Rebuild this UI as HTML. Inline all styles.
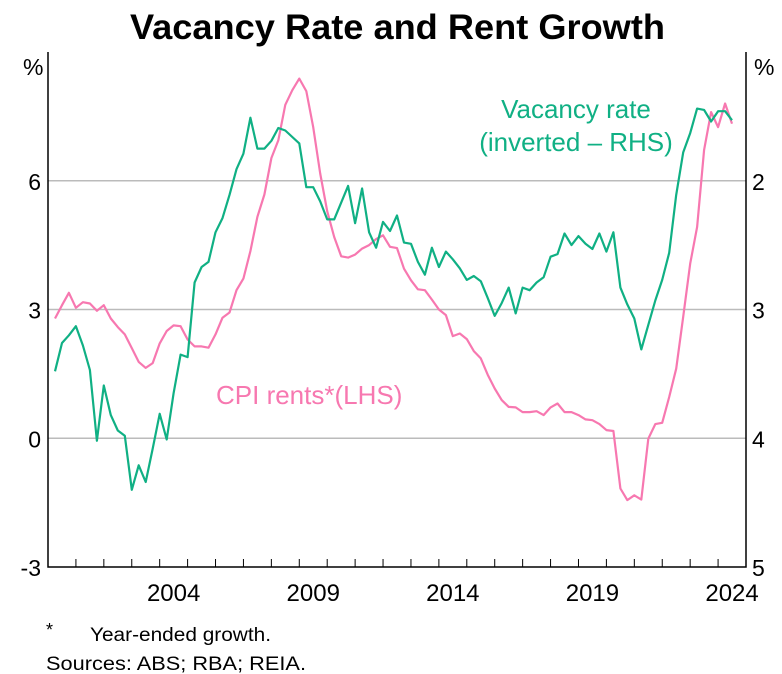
<!DOCTYPE html>
<html><head><meta charset="utf-8"><style>
body{margin:0;background:#fff;}
svg{display:block;font-family:"Liberation Sans",Arial,sans-serif;}
</style></head><body>
<svg id="chart" width="782" height="674" viewBox="0 0 782 674">
<text x="130" y="39" textLength="535" lengthAdjust="spacingAndGlyphs" font-size="35" font-weight="bold" fill="#000">Vacancy Rate and Rent Growth</text>
<g id="grid"></g>
<g id="axes"></g>
<g id="series"></g>
<text x="576" y="118" text-anchor="middle" font-size="26" fill="#10b084">Vacancy rate</text>
<text x="576" y="151" text-anchor="middle" font-size="26" fill="#10b084">(inverted – RHS)</text>
<text x="216" y="404" font-size="26" fill="#f778b0">CPI rents*(LHS)</text>
<text x="46" y="636" font-size="18">*</text>
<text x="90" y="641" font-size="19" textLength="181" lengthAdjust="spacingAndGlyphs">Year-ended growth.</text>
<text x="46" y="670" font-size="19" textLength="260" lengthAdjust="spacingAndGlyphs">Sources: ABS; RBA; REIA.</text>
</svg>
<script>
const startYear = 2000.25;
const yearTicks = [2000,2001,2002,2003,2004,2005,2006,2007,2008,2009,2010,2011,2012,2013,2014,2015,2016,2017,2018,2019,2020,2021,2022,2023,2024,2025];
const yearLabels = [2004,2009,2014,2019,2024];
const leftTicks = [-3,0,3,6];
const rightTicks = [2,3,4,5];
const cpiRents = [2.79,3.1,3.39,3.04,3.17,3.14,2.97,3.10,2.79,2.59,2.42,2.10,1.78,1.64,1.75,2.21,2.50,2.63,2.61,2.30,2.14,2.14,2.11,2.42,2.81,2.93,3.45,3.72,4.36,5.16,5.68,6.53,6.94,7.77,8.11,8.38,8.09,7.25,6.17,5.29,4.69,4.24,4.21,4.28,4.42,4.50,4.64,4.73,4.46,4.43,3.95,3.68,3.47,3.45,3.23,3.00,2.87,2.38,2.44,2.31,2.03,1.86,1.48,1.16,0.89,0.73,0.72,0.61,0.61,0.63,0.54,0.72,0.81,0.61,0.61,0.54,0.44,0.42,0.33,0.19,0.17,-1.17,-1.44,-1.33,-1.43,-0.01,0.33,0.36,0.96,1.62,2.83,4.07,4.92,6.72,7.60,7.25,7.80,7.33];
const vacancyRate = [3.48,3.26,3.20,3.13,3.28,3.47,4.02,3.59,3.82,3.94,3.98,4.40,4.21,4.34,4.08,3.81,4.01,3.65,3.35,3.37,2.79,2.67,2.63,2.40,2.29,2.11,1.91,1.79,1.51,1.75,1.75,1.69,1.59,1.61,1.66,1.71,2.05,2.05,2.16,2.30,2.30,2.17,2.04,2.33,2.06,2.40,2.52,2.32,2.39,2.27,2.48,2.49,2.63,2.73,2.52,2.67,2.55,2.61,2.68,2.77,2.74,2.78,2.91,3.05,2.95,2.83,3.03,2.83,2.85,2.79,2.75,2.59,2.57,2.41,2.50,2.43,2.49,2.53,2.41,2.55,2.40,2.83,2.96,3.07,3.31,3.12,2.93,2.77,2.56,2.11,1.78,1.63,1.44,1.45,1.54,1.46,1.46,1.53];

const X0=48, X1=746, Y0=52, Y1=567;
const ns="http://www.w3.org/2000/svg";
function xs(t){return X0+(t-2000)*(X1-X0)/25;}
function yl(v){return Y1-(v+3)*(Y1-Y0)/12;}
function yr(v){return Y0+(v-1)*(Y1-Y0)/4;}
function mk(tag,attrs,parent){const e=document.createElementNS(ns,tag);for(const k in attrs)e.setAttribute(k,attrs[k]);parent.appendChild(e);return e;}
const grid=document.getElementById('grid'),axes=document.getElementById('axes'),series=document.getElementById('series');
leftTicks.forEach(v=>{
  if(v>-3){const g=mk('line',{x1:X0,x2:X1,y1:yl(v),y2:yl(v),stroke:'#bbb','stroke-width':1.5},grid);
  
  }
  const t=mk('text',{x:41,y:yl(v)+9,'text-anchor':'end','font-size':23},axes);t.textContent=v;
  
  
});
rightTicks.forEach(v=>{
  const t=mk('text',{x:752,y:yr(v)+9,'font-size':23},axes);t.textContent=v;
  
  
});
[[23,'left-unit'],[754,'right-unit']].forEach(([x,n])=>{
  const t=mk('text',{x:x,y:75,'font-size':23},axes);t.textContent='%';
  
  
});
const frame=mk('path',{d:`M${X0},${Y0}V${Y1}H${X1}V${Y0}`,fill:'none',stroke:'#000','stroke-width':1.5},axes);


yearTicks.forEach(y=>{
  const l=mk('line',{x1:xs(y),x2:xs(y),y1:Y1,y2:Y1-8,stroke:'#000','stroke-width':1},axes);
  
  
});
yearLabels.forEach(y=>{
  const t=mk('text',{x:xs(y+0.5),y:601,'text-anchor':'middle','font-size':24},axes);t.textContent=y;
  
  
});
function line(data,yf,color,name){
  const d=data.map((v,i)=>(i?'L':'M')+xs(startYear+i*0.25).toFixed(1)+','+yf(v).toFixed(1)).join('');
  const p=mk('path',{d:d,fill:'none',stroke:color,'stroke-width':2.2,'stroke-linejoin':'round'},series);
  
  
}
line(cpiRents,yl,'#f778b0','cpi-rents-line');
line(vacancyRate,yr,'#10b084','vacancy-rate-line');
</script>
</body></html>
